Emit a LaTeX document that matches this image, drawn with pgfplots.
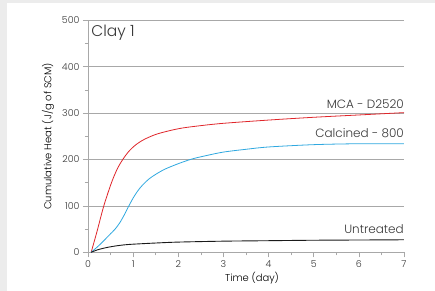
\documentclass[border=0pt]{standalone}
\usepackage{pgfplots}
\pgfplotsset{compat=1.18}
\usepackage{fontspec}
\setmainfont{Poppins}[UprightFont=* Light]
\definecolor{bg}{HTML}{ECECEC}
\definecolor{gridc}{HTML}{A8A8A8}
\definecolor{txt}{HTML}{383838}
\definecolor{redc}{HTML}{E0262B}
\definecolor{bluec}{HTML}{2FA8E0}
\definecolor{blackc}{HTML}{1A1A1A}

\pgfplotstableread{
x y
0.07 0
0.2 45
0.35 100
0.52 150
0.65 180
0.77 200
0.9 217
1.05 231
1.24 243
1.5 254
1.8 262
2.1 268
2.5 273
3.0 278
4.0 285
5.0 291
6.0 296
7.0 301
}\redtab

\pgfplotstableread{
x y
0.07 0
0.2 11
0.3 20
0.4 30
0.5 40
0.6 50
0.7 63
0.8 80
0.9 99
1.0 117
1.1 132
1.2 144
1.35 158
1.5 168
1.7 179
2.0 191
2.3 201
2.6 208
3.0 216
3.5 222
4.0 227
5.0 232
6.0 234
7.0 234
}\bluetab

\pgfplotstableread{
x y
0.07 0
0.2 5
0.4 10
0.6 13.5
0.8 16
1.0 17.5
1.5 20
2.0 22
3.0 24
4.0 25
5.0 26
6.0 26.5
7.0 27
}\blacktab

\begin{document}
\begin{tikzpicture}
\fill[bg] (-88bp,-38.7bp) rectangle (347bp,252.3bp);
\fill[white] (-81bp,-38.7bp) rectangle (347bp,249.3bp);
\begin{axis}[
  at={(0,0)}, anchor=south west,
  scale only axis, width=316bp, height=232bp,
  xmin=0, xmax=7, ymin=0, ymax=500,
  axis x line=bottom, axis y line=left,
  axis line style={-, draw=gridc, line width=0.7pt},
  xtick={0,1,...,7}, ytick={0,100,...,500},
  minor xtick={0.5,1.5,...,6.5}, minor ytick={50,150,...,450},
  tick align=outside,
  major tick length=5bp, minor tick length=3bp,
  tick style={draw=gridc, line width=0.6pt},
  ymajorgrids, grid style={draw=gridc, line width=0.7pt},
  /pgf/number format/assume math mode=true,
  ticklabel style={font=\fontsize{9.5bp}{11bp}\selectfont, text=txt},
  label style={font=\fontsize{9.5bp}{11bp}\selectfont, text=txt},
  xlabel={Time (day)}, ylabel={Cumulative Heat (J/g of SCM)},
  every axis x label/.style={at={(axis description cs:0.519,-0.1108)}, anchor=center},
  every axis y label/.style={at={(axis description cs:-0.1266,0.5)}, anchor=center, rotate=90},
  clip=false,
]
\addplot[draw=redc, line width=0.8pt, smooth] table[x=x,y=y] {\redtab};
\addplot[draw=bluec, line width=0.8pt, smooth] table[x=x,y=y] {\bluetab};
\addplot[draw=blackc, line width=0.9pt, smooth] table[x=x,y=y] {\blacktab};
\node[anchor=base east, inner sep=0pt, text=txt, font=\fontsize{12bp}{14bp}\selectfont] at (axis cs:7,309) {MCA - D2520};
\node[anchor=base east, inner sep=0pt, text=txt, font=\fontsize{12bp}{14bp}\selectfont] at (axis cs:7,248) {Calcined - 800};
\node[anchor=base east, inner sep=0pt, text=txt, font=\fontsize{12bp}{14bp}\selectfont] at (axis cs:7,41) {Untreated};
\node[anchor=base west, inner sep=0pt, text=txt, font=\fontsize{15.5bp}{18bp}\selectfont] at (axis cs:0.07,466) {Clay 1};
\end{axis}
\pgfresetboundingbox
\path (-88bp,-38.7bp) rectangle (347bp,252.3bp);
\end{tikzpicture}
\end{document}
